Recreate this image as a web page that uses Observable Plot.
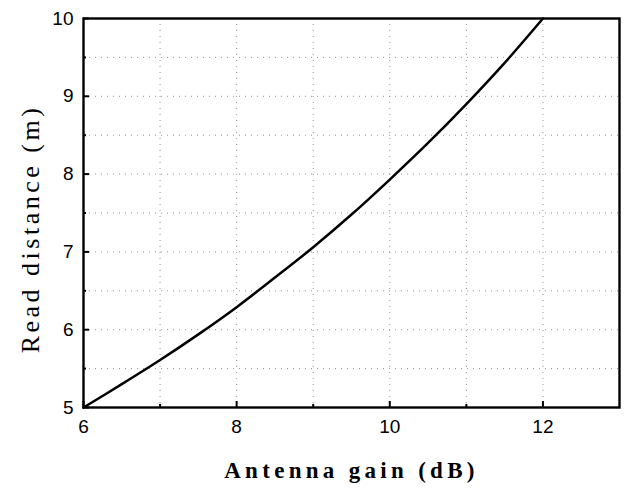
<!DOCTYPE html>
<html>
<head>
<meta charset="utf-8">
<script src="https://cdn.jsdelivr.net/npm/d3@7"></script>
<script src="https://cdn.jsdelivr.net/npm/@observablehq/plot@0.6"></script>
<style>
  html, body { margin: 0; padding: 0; background: #fff; }
  #chart svg { display: block; background: #fff; }
</style>
</head>
<body>
<div id="chart"></div>
<script>
// Data
const gain = [6, 6.5, 7, 7.5, 8, 8.5, 9, 9.5, 10, 10.5, 11, 11.5, 12];
const distance = [5.0, 5.3, 5.61, 5.94, 6.29, 6.67, 7.06, 7.48, 7.93, 8.4, 8.9, 9.43, 10.0];
const xMajorTicks = [6, 8, 10, 12];
const xMinorTicks = [7, 9, 11];
const xGrid = [7, 8, 9, 10, 11, 12];
const yMajorTicks = [5, 6, 7, 8, 9, 10];
const yMinorTicks = [5.5, 6.5, 7.5, 8.5, 9.5];
const yGrid = [5.5, 6, 6.5, 7, 7.5, 8, 8.5, 9, 9.5];
const xLabel = "Antenna gain (dB)";
const yLabel = "Read distance (m)";

const rows = gain.map((g, i) => ({gain: g, distance: distance[i]}));

const chart = Plot.plot({
  width: 625,
  height: 491,
  marginLeft: 83,
  marginRight: 6,
  marginTop: 18,
  marginBottom: 84,
  style: {background: "#fff", color: "#000"},
  x: {domain: [6, 13]},
  y: {domain: [5, 10]},
  marks: [
    Plot.gridX(xGrid, {stroke: "#666", strokeOpacity: 0.7, strokeDasharray: "1,5"}),
    Plot.gridY(yGrid, {stroke: "#666", strokeOpacity: 0.7, strokeDasharray: "1,5"}),
    Plot.axisX(xMajorTicks, {anchor: "bottom", tickSize: -6, tickPadding: 18, strokeWidth: 2, label: null,
      fontSize: 19, fontFamily: "Liberation Sans, Arial, sans-serif", tickFormat: d => String(d)}),
    Plot.axisX(xMinorTicks, {anchor: "bottom", tickSize: -3, strokeWidth: 2, label: null, tickFormat: () => ""}),
    Plot.axisY(yMajorTicks, {anchor: "left", tickSize: -6, tickPadding: 16, strokeWidth: 2, label: null,
      fontSize: 19, fontFamily: "Liberation Sans, Arial, sans-serif", tickFormat: d => String(d)}),
    Plot.axisY(yMinorTicks, {anchor: "left", tickSize: -3, strokeWidth: 2, label: null, tickFormat: () => ""}),
    Plot.line(rows, {x: "gain", y: "distance", stroke: "#000", strokeWidth: 2.5, curve: "catmull-rom"}),
    Plot.frame({stroke: "#000", strokeWidth: 2.4}),
    Plot.text([xLabel], {frameAnchor: "bottom", dy: 70, text: d => d, fontSize: 23, fontWeight: "bold",
      fontFamily: "Liberation Serif, Times New Roman, serif", fill: "#000"}),
    Plot.text([yLabel], {frameAnchor: "left", textAnchor: "middle", dx: -53, dy: 16, rotate: -90, text: d => d, fontSize: 26,
      fontFamily: "Liberation Serif, Times New Roman, serif", fill: "#000"})
  ]
});

d3.select(chart).selectAll("text").filter(function() { return this.textContent === xLabel; })
  .style("letter-spacing", "4.3px");
d3.select(chart).selectAll("text").filter(function() { return this.textContent === yLabel; })
  .style("letter-spacing", "3.5px");

document.getElementById("chart").appendChild(chart);
</script>
</body>
</html>
